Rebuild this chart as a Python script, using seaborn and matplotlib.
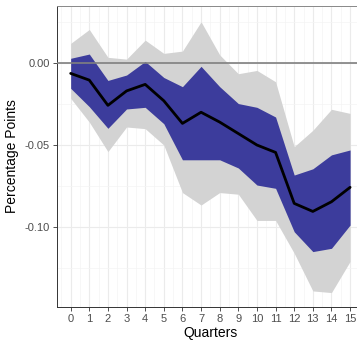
import numpy as np
import pandas as pd
import matplotlib
matplotlib.use("Agg")
import matplotlib.pyplot as plt
import seaborn as sns
from matplotlib.ticker import MultipleLocator, FixedLocator

quarters = list(range(16))
point = [-0.0063, -0.0104, -0.0258, -0.0170, -0.0130, -0.0230, -0.0368, -0.0300,
         -0.0360, -0.0430, -0.0500, -0.0545, -0.0856, -0.0905, -0.0846, -0.0758]
inner_upper = [0.0029, 0.0055, -0.0106, -0.0073, 0.0010, -0.0088, -0.0144, -0.0020,
               -0.0144, -0.0247, -0.0270, -0.0329, -0.0683, -0.0645, -0.0560, -0.0530]
inner_lower = [-0.0154, -0.0266, -0.0398, -0.0280, -0.0270, -0.0370, -0.0590, -0.0590,
               -0.0590, -0.0640, -0.0744, -0.0764, -0.1029, -0.1150, -0.1130, -0.0988]
outer_upper = [0.0120, 0.0205, 0.0035, 0.0024, 0.0140, 0.0059, 0.0073, 0.0252,
               0.0050, -0.0065, -0.0045, -0.0114, -0.0510, -0.0410, -0.0282, -0.0307]
outer_lower = [-0.0215, -0.0360, -0.0540, -0.0390, -0.0400, -0.0500, -0.0790, -0.0866,
               -0.0790, -0.0800, -0.0960, -0.0960, -0.1160, -0.1390, -0.1400, -0.1210]
y_ticks = [0.0, -0.05, -0.10]
y_tick_labels = ["0.00", "-0.05", "-0.10"]
x_label = "Quarters"
y_label = "Percentage Points"

df = pd.DataFrame({"q": quarters, "point": point,
                   "il": inner_lower, "iu": inner_upper,
                   "ol": outer_lower, "ou": outer_upper})

sns.set_theme(style="white")
plt.rcParams["font.family"] = ["Liberation Sans", "DejaVu Sans"]

fig = plt.figure(figsize=(3.57, 3.40), dpi=100)
ax = fig.add_axes([0.1588, 0.098, 0.861, 0.8843])

ax.set_xlim(-0.75, 15.75)
ax.set_ylim(-0.1486, 0.0348)

# grid
ax.xaxis.set_major_locator(FixedLocator(quarters))
ax.xaxis.set_minor_locator(MultipleLocator(0.5))
ax.yaxis.set_major_locator(FixedLocator(y_ticks))
ax.yaxis.set_minor_locator(FixedLocator([0.025, -0.025, -0.075, -0.125]))
ax.grid(True, which="major", color="#ebebeb", linewidth=0.8)
ax.grid(True, which="minor", color="#f4f4f4", linewidth=0.5)
ax.set_axisbelow(True)

ax.fill_between(df["q"], df["ol"], df["ou"], color="#d3d3d3", linewidth=0, zorder=2)
ax.fill_between(df["q"], df["il"], df["iu"], color="#3c3c9c", linewidth=0, zorder=3)
ax.axhline(0, color="#808080", linewidth=1.2, zorder=4)
sns.lineplot(data=df, x="q", y="point", color="black", linewidth=2.0, ax=ax, zorder=5)

ax.set_yticklabels(y_tick_labels)
ax.set_xticklabels([str(q) for q in quarters])
ax.tick_params(axis="both", which="major", length=3, width=0.6, color="#333333",
               labelsize=8, labelcolor="#4d4d4d", pad=2, bottom=True, left=True)
ax.tick_params(axis="both", which="minor", length=0)

for s in ax.spines.values():
    s.set_color("#333333")
    s.set_linewidth(0.7)
ax.spines["top"].set_color("#888888")

ax.set_xlabel(x_label, fontsize=10, color="black", labelpad=2)
ax.set_ylabel(y_label, fontsize=10, color="black", labelpad=4)

fig.savefig("out.png", dpi=100)
